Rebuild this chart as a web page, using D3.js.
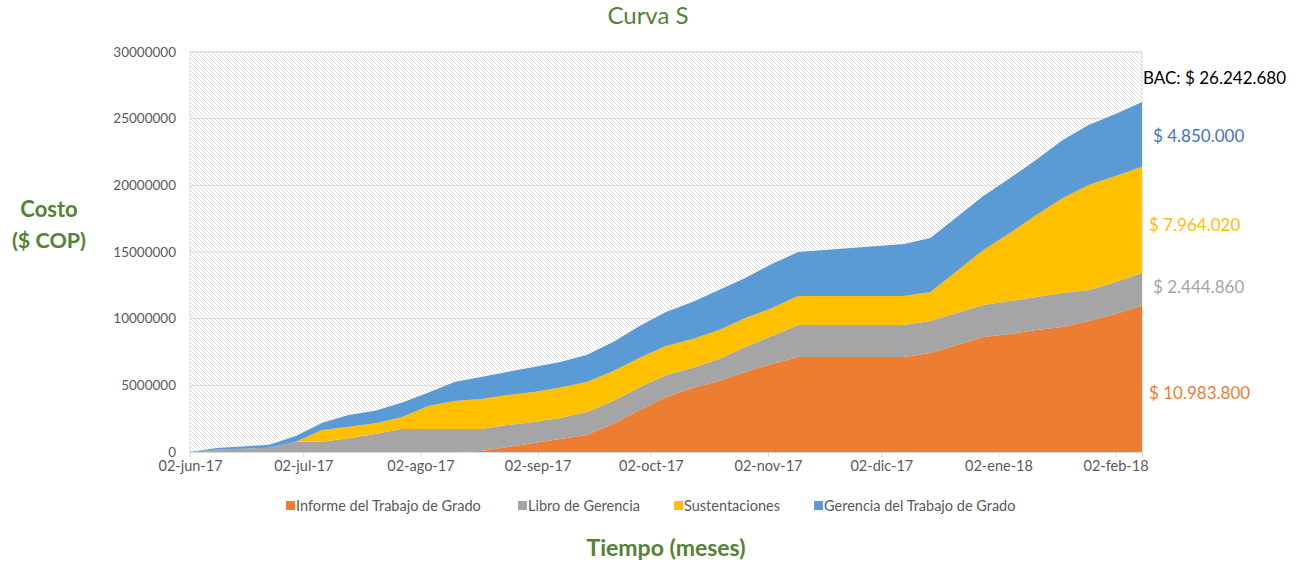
<!DOCTYPE html>
<html>
<head>
<meta charset="utf-8">
<script src="https://cdn.jsdelivr.net/npm/d3@7"></script>
<style>
  body { margin: 0; background: #fff; }
  svg { font-family: Lato, "Open Sans", sans-serif; }
</style>
</head>
<body>
<svg id="chart" width="1303" height="563"></svg>
<script>
// semanas (fechas de corte)
const fechas = [
  "2017-06-02", "2017-06-09", "2017-06-16", "2017-06-23", "2017-06-30",
  "2017-07-07", "2017-07-14", "2017-07-21", "2017-07-28", "2017-08-04",
  "2017-08-11", "2017-08-18", "2017-08-25", "2017-09-01", "2017-09-08",
  "2017-09-15", "2017-09-22", "2017-09-29", "2017-10-06", "2017-10-13",
  "2017-10-20", "2017-10-27", "2017-11-03", "2017-11-10", "2017-11-17",
  "2017-11-24", "2017-12-01", "2017-12-08", "2017-12-15", "2017-12-22",
  "2017-12-29", "2018-01-05", "2018-01-12", "2018-01-19", "2018-01-26",
  "2018-02-02", "2018-02-09"
];

const informe = [0, 0, 0, 0, 0, 0, 0, 0, 0, 0, 0, 75000, 375000, 675000, 975000,
  1275000, 2100000, 3150000, 4125000, 4800000, 5325000, 6000000, 6600000, 7125000,
  7125000, 7125000, 7125000, 7125000, 7425000, 8025000, 8625000, 8850000, 9150000,
  9375000, 9825000, 10350000, 10983800];

const libro = [0, 187500, 247500, 322500, 772500, 772500, 1027500, 1350000, 1725000,
  1725000, 1725000, 1650000, 1650000, 1575000, 1575000, 1725000, 1725000, 1700000,
  1650000, 1500000, 1650000, 1875000, 2100000, 2400000, 2400000, 2400000, 2400000,
  2400000, 2400000, 2400000, 2400000, 2475000, 2475000, 2550000, 2325000, 2400000,
  2444860];

const sustentaciones = [0, 0, 0, 0, 0, 877500, 870000, 802500, 877500, 1725000,
  2100000, 2250000, 2250000, 2250000, 2287500, 2250000, 2250000, 2212500, 2175000,
  2175000, 2175000, 2175000, 2100000, 2175000, 2175000, 2175000, 2175000, 2175000,
  2175000, 3150000, 4125000, 5100000, 6150000, 7125000, 7900000, 7950000, 7964020];

const gerencia = [0, 112500, 165000, 225000, 427500, 547500, 877500, 945000, 1095000,
  997500, 1425000, 1650000, 1725000, 1875000, 1912500, 2025000, 2175000, 2385000,
  2550000, 2775000, 3000000, 3000000, 3300000, 3300000, 3450000, 3600000, 3750000,
  3900000, 4050000, 4050000, 4050000, 4100000, 4150000, 4350000, 4500000, 4650000,
  4850000];

const series = ["Informe del Trabajo de Grado", "Libro de Gerencia", "Sustentaciones", "Gerencia del Trabajo de Grado"];
const colores = ["#ed7d31", "#a5a5a5", "#ffc000", "#5b9bd5"];
const yTicks = [0, 5000000, 10000000, 15000000, 20000000, 25000000, 30000000];
const xTicks = ["2017-06-02", "2017-07-02", "2017-08-02", "2017-09-02", "2017-10-02",
  "2017-11-02", "2017-12-02", "2018-01-02", "2018-02-02"];
const etiquetas = [
  { text: "BAC: $ 26.242.680", value: 27600000, color: "#000000" },
  { text: "$ 4.850.000", value: 23250000, color: "#4472c4" },
  { text: "$ 7.964.020", value: 16600000, color: "#ffc000" },
  { text: "$ 2.444.860", value: 11900000, color: "#a5a5a5" },
  { text: "$ 10.983.800", value: 3950000, color: "#ed7d31" }
];

const parse = d3.timeParse("%Y-%m-%d");
const es = d3.timeFormatLocale({
  dateTime: "%x %X", date: "%d/%m/%Y", time: "%H:%M:%S", periods: ["AM", "PM"],
  days: ["domingo", "lunes", "martes", "miércoles", "jueves", "viernes", "sábado"],
  shortDays: ["dom", "lun", "mar", "mié", "jue", "vie", "sáb"],
  months: ["enero", "febrero", "marzo", "abril", "mayo", "junio", "julio", "agosto", "septiembre", "octubre", "noviembre", "diciembre"],
  shortMonths: ["ene", "feb", "mar", "abr", "may", "jun", "jul", "ago", "sep", "oct", "nov", "dic"]
});
const fmt = es.format("%d-%b-%y");

const data = fechas.map((f, i) => ({
  date: parse(f), s0: informe[i], s1: libro[i], s2: sustentaciones[i], s3: gerencia[i]
}));

const svg = d3.select("#chart");
const mLeft = 190, mRight = 1142, mTop = 52, mBottom = 452;

const x = d3.scaleTime()
  .domain([parse(fechas[0]), parse(fechas[fechas.length - 1])])
  .range([mLeft, mRight]);
const y = d3.scaleLinear().domain([0, 30000000]).range([mBottom, mTop]);

// fondo rayado
const defs = svg.append("defs");
defs.append("pattern")
  .attr("id", "rayas")
  .attr("patternUnits", "userSpaceOnUse")
  .attr("width", 4)
  .attr("height", 4)
  .append("path")
  .attr("d", "M0,0L4,4M-1,3L1,5M3,-1L5,1")
  .attr("stroke", "#d4d4d4")
  .attr("stroke-width", 0.8);

svg.append("rect")
  .attr("x", mLeft).attr("y", mTop)
  .attr("width", mRight - mLeft).attr("height", mBottom - mTop)
  .attr("fill", "url(#rayas)")
  .attr("stroke", "#d9d9d9");

// grid
svg.append("g")
  .selectAll("line")
  .data(yTicks)
  .join("line")
  .attr("x1", mLeft).attr("x2", mRight)
  .attr("y1", (d) => y(d)).attr("y2", (d) => y(d))
  .attr("stroke", "#d9d9d9");

// areas apiladas
const stack = d3.stack().keys(["s0", "s1", "s2", "s3"]);
const layers = stack(data);
const area = d3.area()
  .x((d) => x(d.data.date))
  .y0((d) => y(d[0]))
  .y1((d) => y(d[1]));

svg.append("g")
  .selectAll("path")
  .data(layers)
  .join("path")
  .attr("d", area)
  .attr("fill", (d, i) => colores[i]);

// eje x
const xAxis = svg.append("g")
  .attr("transform", `translate(0,${mBottom})`)
  .call(d3.axisBottom(x)
    .tickValues(xTicks.map(parse))
    .tickFormat(fmt)
    .tickSize(5)
    .tickPadding(4));
xAxis.select(".domain").attr("stroke", "#d9d9d9");
xAxis.selectAll(".tick line").attr("stroke", "#d9d9d9");
xAxis.selectAll("text")
  .attr("fill", "#595959")
  .attr("font-size", 14.5)
  .attr("font-family", "Lato, sans-serif");

// eje y
const yAxis = svg.append("g")
  .attr("transform", `translate(${mLeft},0)`)
  .call(d3.axisLeft(y).tickValues(yTicks).tickFormat(d3.format("d")).tickSize(0).tickPadding(14));
yAxis.select(".domain").remove();
yAxis.selectAll("text")
  .attr("fill", "#595959")
  .attr("font-size", 13.5)
  .attr("font-family", "Lato, sans-serif");

// titulos
svg.append("text")
  .attr("x", 648).attr("y", 24)
  .attr("text-anchor", "middle")
  .attr("fill", "#548235")
  .attr("font-size", 24)
  .text("Curva S");

svg.append("text")
  .attr("x", 49).attr("y", 217)
  .attr("text-anchor", "middle")
  .attr("fill", "#548235")
  .attr("font-size", 22)
  .attr("font-weight", "bold")
  .text("Costo");
svg.append("text")
  .attr("x", 49).attr("y", 248)
  .attr("text-anchor", "middle")
  .attr("fill", "#548235")
  .attr("font-size", 21.5)
  .attr("font-weight", "bold")
  .text("($ COP)");

svg.append("text")
  .attr("x", 666).attr("y", 556)
  .attr("text-anchor", "middle")
  .attr("fill", "#548235")
  .attr("font-size", 23)
  .attr("font-weight", "bold")
  .text("Tiempo (meses)");

// leyenda
const legX = [286, 518, 674, 814];
const leg = svg.append("g")
  .selectAll("g")
  .data(series)
  .join("g")
  .attr("transform", (d, i) => `translate(${legX[i]},500)`);
leg.append("rect")
  .attr("width", 9).attr("height", 9)
  .attr("y", 1)
  .attr("fill", (d, i) => colores[i]);
leg.append("text")
  .attr("x", 10).attr("y", 11)
  .attr("fill", "#595959")
  .attr("font-size", 14.5)
  .text((d) => d);

// etiquetas de valores
const etX = [1143, 1153, 1149, 1153, 1149];
svg.append("g")
  .selectAll("text")
  .data(etiquetas)
  .join("text")
  .attr("x", (d, i) => etX[i])
  .attr("y", (d) => y(d.value))
  .attr("fill", (d) => d.color)
  .attr("font-size", 17)
  .text((d) => d.text);
</script>
</body>
</html>
